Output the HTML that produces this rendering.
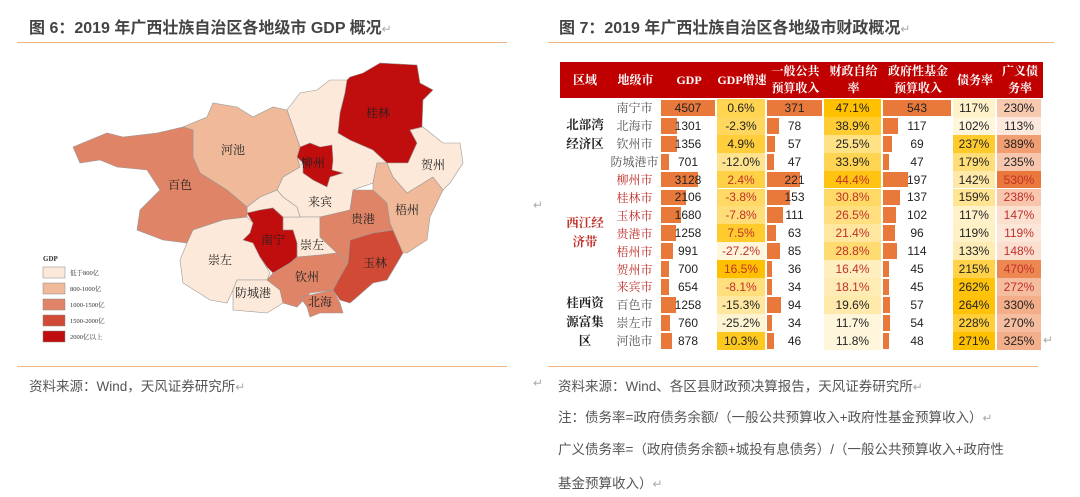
<!DOCTYPE html>
<html><head><meta charset="utf-8">
<style>
body{margin:0;width:1080px;height:497px;background:#fff;position:relative;overflow:hidden;font-family:"Liberation Sans","Noto Sans CJK SC",sans-serif;}
.ttl{position:absolute;top:14px;font-size:16px;font-weight:bold;color:#444;white-space:nowrap}
.ln{position:absolute;height:1px;background:#f0b583}
.src{position:absolute;font-size:13.5px;color:#555;white-space:nowrap}
.ret{color:#aaa;font-weight:normal;font-size:12px}
#tbl{position:absolute;left:560px;top:62px;width:483px}
.hd{position:absolute;top:0;height:36px;background:#c00000;color:#fff;font-family:"Liberation Serif","Noto Serif CJK SC",serif;font-weight:bold;font-size:12px;display:flex;align-items:center;justify-content:center;text-align:center;line-height:17px}
.cell{position:absolute;height:17.9px;font-size:12px;display:flex;align-items:center;justify-content:center;color:#222;font-family:"Liberation Sans","Noto Serif CJK SC",sans-serif}
.bar{position:absolute;background:#e8793a}
.reg{position:absolute;font-family:"Liberation Serif","Noto Serif CJK SC",serif;font-weight:bold;font-size:12.5px;text-align:center;line-height:19px;width:50px;left:0}
.maplbl{font-family:"Noto Serif CJK SC",serif;font-size:12px;fill:#222}
</style></head><body>
<div class="ttl" style="left:29px">图 6：2019 年广西壮族自治区各地级市 GDP 概况<span class="ret">↵</span></div>
<div class="ln" style="left:17px;top:42px;width:490px"></div>
<div class="ttl" style="left:559px">图 7：2019 年广西壮族自治区各地级市财政概况<span class="ret">↵</span></div>
<div class="ln" style="left:548px;top:42px;width:506px"></div>
<div class="ln" style="left:17px;top:366px;width:490px"></div>
<div class="ln" style="left:548px;top:366px;width:490px"></div>
<div class="src" style="left:29px;top:375px">资料来源：Wind，天风证券研究所<span class="ret">↵</span></div>
<div class="src" style="left:558px;top:375px">资料来源：Wind、各区县财政预决算报告，天风证券研究所<span class="ret">↵</span></div>
<div class="src" style="left:558px;top:406px">注：债务率=政府债务余额/（一般公共预算收入+政府性基金预算收入）<span class="ret">↵</span></div>
<div class="src" style="left:558px;top:438px">广义债务率=（政府债务余额+城投有息债务）/（一般公共预算收入+政府性</div>
<div class="src" style="left:558px;top:472px">基金预算收入）<span class="ret">↵</span></div>
<div class="src" style="left:533px;top:197px"><span class="ret">↵</span></div>
<div class="src" style="left:533px;top:375px"><span class="ret">↵</span></div>
<div class="src" style="left:1043px;top:332px"><span class="ret">↵</span></div>

<svg style="position:absolute;left:0;top:0" width="540" height="360">
<g stroke="#999" stroke-width="0.6">
<polygon fill="#fde9d9" points="287,110 300,93 317,90 330,80 347,80 345,93 340,113 338,133 350,140 373,150 387,163 377,163 373,183 353,190 350,210 320,217 300,217 297,207 283,197 277,190 283,177 300,167 297,157 300,147 293,127"/>
<polygon fill="#fde9d9" points="283,217 300,217 320,217 320,237 337,253 320,255 297,257 297,243 293,230 283,230"/>
<polygon fill="#fde9d9" points="247,207 260,197 277,190 283,197 297,207 300,217 283,217 273,208 260,210 247,213"/>
<polygon fill="#c00d0d" points="350,77 363,73 380,63 417,65 420,83 433,90 423,100 422,127 410,130 417,143 408,163 387,163 373,150 350,140 338,133 340,113 345,93 347,80"/>
<polygon fill="#c00d0d" points="300,147 310,143 320,147 332,145 333,160 332,170 343,173 330,177 327,187 313,180 303,173 303,163 297,157"/>
<polygon fill="#efb99a" points="193,130 183,127 207,117 213,103 237,107 253,117 273,107 287,110 293,127 300,147 297,157 300,167 283,177 277,190 260,197 247,207 227,190 200,173 193,157"/>
<polygon fill="#df8466" points="73,147 107,133 123,137 157,133 183,127 193,130 193,157 200,173 227,190 247,207 247,217 223,220 193,230 187,243 163,240 137,230 140,210 160,190 147,170 117,167 100,160 80,163"/>
<polygon fill="#fde9d9" points="187,243 193,230 223,220 247,217 260,230 253,243 260,257 270,273 267,280 237,280 233,290 227,303 210,300 183,283 180,260"/>
<polygon fill="#c00d0d" points="247,213 260,210 273,208 283,217 283,230 293,230 297,243 297,257 290,263 273,273 267,267 260,257 253,243 243,240 250,233 253,223"/>
<polygon fill="#fde9d9" points="237,280 267,280 280,290 283,303 267,313 233,310 233,290"/>
<polygon fill="#df8466" points="267,280 273,273 290,263 297,257 320,255 337,253 348,263 340,277 333,290 310,293 297,307 283,303 280,290"/>
<polygon fill="#df8466" points="300,297 333,290 340,303 343,313 320,313 310,317 307,307"/>
<polygon fill="#d04a35" points="348,263 350,240 373,233 393,230 403,253 393,270 387,280 373,283 357,297 350,303 340,300 333,290 340,277"/>
<polygon fill="#df8466" points="320,217 350,210 353,190 373,190 387,203 390,223 393,230 373,233 350,240 348,263 337,253 320,237"/>
<polygon fill="#efb99a" points="373,183 377,163 387,163 393,177 407,193 433,177 443,190 430,217 427,240 407,253 403,253 393,230 390,223 387,203 373,190"/>
<polygon fill="#fde9d9" points="410,130 423,127 443,143 460,143 463,163 450,183 443,190 433,177 407,193 393,177 387,163 408,163 417,143"/>
</g>
<g class="maplbl" text-anchor="middle">
<text x="378" y="117">桂林</text>
<text x="233" y="154">河池</text>
<text x="313" y="167">柳州</text>
<text x="433" y="169">贺州</text>
<text x="180" y="189">百色</text>
<text x="320" y="206">来宾</text>
<text x="407" y="214">梧州</text>
<text x="363" y="223">贵港</text>
<text x="273" y="244">南宁</text>
<text x="312" y="249">崇左</text>
<text x="220" y="264">崇左</text>
<text x="375" y="267">玉林</text>
<text x="307" y="281">钦州</text>
<text x="253" y="297">防城港</text>
<text x="320" y="306">北海</text>
</g>
<g font-family="Liberation Serif,Noto Serif CJK SC,serif" font-size="6.5" fill="#333">
<text x="43" y="261" font-weight="bold" font-size="7">GDP</text>
<rect x="43" y="267" width="22" height="11" fill="#fde9d9" stroke="#888" stroke-width="0.5"/><text x="70" y="275">低于800亿</text>
<rect x="43" y="283" width="22" height="11" fill="#efb99a" stroke="#888" stroke-width="0.5"/><text x="70" y="291">800-1000亿</text>
<rect x="43" y="299" width="22" height="11" fill="#df8466" stroke="#888" stroke-width="0.5"/><text x="70" y="307">1000-1500亿</text>
<rect x="43" y="315" width="22" height="11" fill="#d04a35" stroke="#888" stroke-width="0.5"/><text x="70" y="323">1500-2000亿</text>
<rect x="43" y="331" width="22" height="11" fill="#c00d0d" stroke="#888" stroke-width="0.5"/><text x="70" y="339">2000亿以上</text>
</g>
</svg>

<div id="tbl"></div>
<script>
const cities=["南宁市","北海市","钦州市","防城港市","柳州市","桂林市","玉林市","贵港市","梧州市","贺州市","来宾市","百色市","崇左市","河池市"];
const gdp=[4507,1301,1356,701,3128,2106,1680,1258,991,700,654,1258,760,878];
const growth=[0.6,-2.3,4.9,-12.0,2.4,-3.8,-7.8,7.5,-27.2,16.5,-8.1,-15.3,-25.2,10.3];
const budget=[371,78,57,47,221,153,111,63,85,36,34,94,34,46];
const selfSuff=[47.1,38.9,25.5,33.9,44.4,30.8,26.5,21.4,28.8,16.4,18.1,19.6,11.7,11.8];
const fund=[543,117,69,47,197,137,102,96,114,45,45,57,54,48];
const debt=[117,102,237,179,142,159,117,119,133,215,262,264,228,271];
const broad=[230,113,389,235,530,238,147,119,148,470,272,330,270,325];
const redRows=[4,5,6,7,8,9,10];
const headers=["区域","地级市","GDP","GDP增速","一般公共<br>预算收入","财政自给<br>率","政府性基金<br>预算收入","债务率","广义债<br>务率"];
const colX=[0,50,101,157,207,264,323,393,437,483];
const T=document.getElementById('tbl');
const RH=17.9, TOP=37;
function mix(a,b,t){t=Math.max(0,Math.min(1,t));return 'rgb('+a.map((v,i)=>Math.round(v+(b[i]-v)*t)).join(',')+')';}
function scale(arr,v,lo,hi){const mn=Math.min(...arr),mx=Math.max(...arr);return mix(lo,hi,(v-mn)/(mx-mn));}
const Y0=[255,246,220],Y1=[255,192,0],O0=[252,232,220],O1=[234,120,60];
headers.forEach((h,i)=>{const d=document.createElement('div');d.className='hd';d.style.left=colX[i]+'px';d.style.width=(colX[i+1]-colX[i])+'px';d.innerHTML=h;


T.appendChild(d);});
function cell(r,c,txt,bg,red){const d=document.createElement('div');d.className='cell';d.style.left=colX[c]+'px';d.style.width=(colX[c+1]-colX[c]-2)+'px';d.style.top=(TOP+r*RH)+'px';if(bg)d.style.background=bg;if(red)d.style.color='#c0302a';d.textContent=txt;


T.appendChild(d);return d;}
function bar(r,c,v,mx){const w=(colX[c+1]-colX[c]-2)*v/mx;const b=document.createElement('div');b.className='bar';b.style.left=colX[c]+'px';b.style.top=(TOP+r*RH+1)+'px';b.style.height=(RH-2)+'px';b.style.width=w+'px';


T.appendChild(b);}
const gmax=Math.max(...gdp),bmax=Math.max(...budget),fmax=Math.max(...fund);
cities.forEach((c,r)=>{const red=redRows.includes(r);
 const cc=cell(r,1,c,null,red);cc.style.fontFamily='"Noto Serif CJK SC",serif';cc.style.color=red?'#c0302a':'#555';
 bar(r,2,gdp[r],gmax);cell(r,2,gdp[r]);
 cell(r,3,growth[r].toFixed(1)+'%',scale(growth,growth[r],Y0,Y1),red);
 bar(r,4,budget[r],bmax);cell(r,4,budget[r]);
 cell(r,5,selfSuff[r].toFixed(1)+'%',scale(selfSuff,selfSuff[r],Y0,Y1),red);
 bar(r,6,fund[r],fmax);cell(r,6,fund[r]);
 cell(r,7,debt[r]+'%',scale(debt,debt[r],Y0,Y1));
 cell(r,8,broad[r]+'%',scale(broad,broad[r],O0,O1),red);
});
const regs=[["北部湾<br>经济区",0,4,'#222'],["西江经<br>济带",4,7,'#c0302a'],["桂西资<br>源富集<br>区",11,3,'#222']];
regs.forEach(g=>{const d=document.createElement('div');d.className='reg';d.innerHTML=g[0];d.style.color=g[3];
const lines=g[0].split('<br>').length;d.style.top=(TOP+(g[1]+g[2]/2)*RH-lines*9.5)+'px';


T.appendChild(d);});
</script>
</body></html>
